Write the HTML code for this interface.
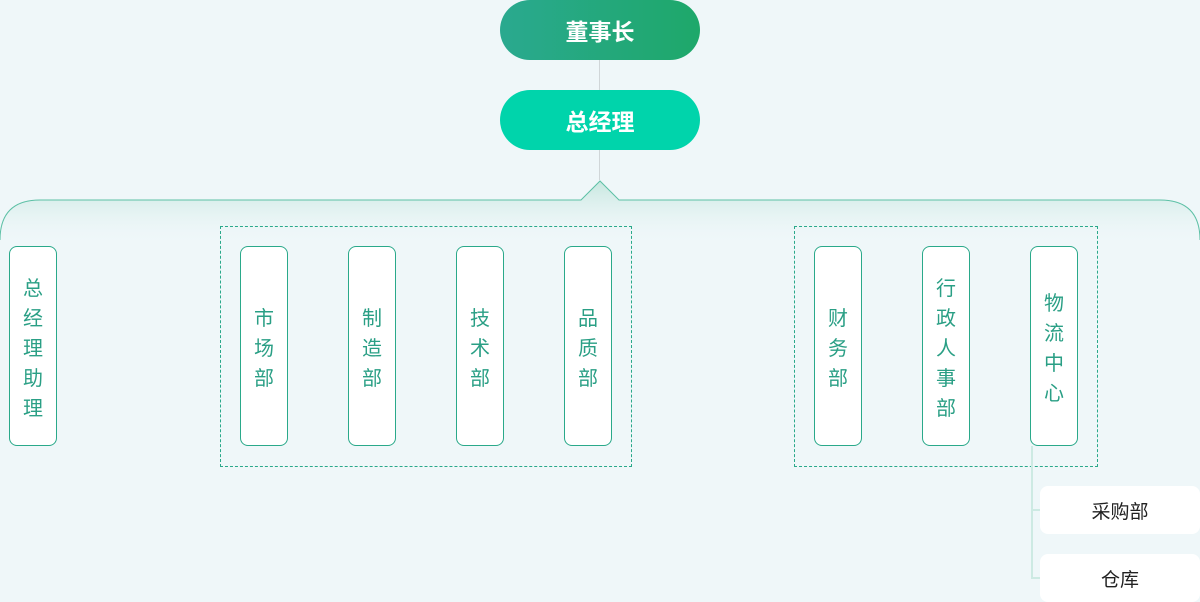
<!DOCTYPE html>
<html><head><meta charset="utf-8"><style>
body{margin:0;width:1200px;height:602px;background:#eff7f9;position:relative;overflow:hidden;font-family:"Liberation Sans","Noto Sans CJK SC",sans-serif}
.a{position:absolute}
.pill{position:absolute;left:500px;width:200px;height:60px;border-radius:30px;color:#fff;font-weight:bold;font-size:23px;display:flex;align-items:center;justify-content:center}
.v{position:absolute;top:246px;width:46px;height:198px;box-sizing:content-box;border:1px solid #2aa98a;border-radius:8px;background:#fff;color:#2a9f85;font-size:20px;display:flex;flex-direction:column;align-items:center;justify-content:center;line-height:30px;padding-top:0}
.v span{display:block;position:relative;top:3px}
.d{position:absolute;top:226px;height:239px;border:1px dashed #2aa98a}
.s{position:absolute;left:1040px;width:160px;height:48px;background:#fff;border-radius:8px;display:flex;align-items:center;justify-content:center;font-size:19px;color:#222}
</style></head><body>
<div class="a" style="left:599px;top:60px;width:1px;height:120px;background:#d0d6d8"></div>
<div class="pill" style="top:0;background:linear-gradient(90deg,#2aa98f,#1ea86a)">董事长</div>
<div class="pill" style="top:90px;background:#00d4ab">总经理</div>
<svg class="a" style="left:0;top:0" width="1200" height="260">
<defs><linearGradient id="g" x1="0" y1="0" x2="0" y2="1"><stop offset="0" stop-color="#c6e7df"/><stop offset="1" stop-color="#eff7f9" stop-opacity="0"/></linearGradient></defs>
<path d="M0,245 L0,240 Q0,200 40,200 L581,200 L600,181 L619,200 L1160,200 Q1200,200 1200,240 L1200,245 Z" fill="url(#g)"/>
<path d="M0,240 Q0,200 40,200 L581,200 L600,181 L619,200 L1160,200 Q1200,200 1200,240" fill="none" stroke="#5cc0a5" stroke-width="1"/>
</svg>
<div class="d" style="left:220px;width:410px"></div>
<div class="d" style="left:794px;width:302px"></div>
<div class="a" style="left:1031px;top:446px;width:2px;height:133px;background:#cdeae3"></div>
<div class="a" style="left:1031px;top:509px;width:10px;height:2px;background:#cdeae3"></div>
<div class="a" style="left:1031px;top:577px;width:10px;height:2px;background:#cdeae3"></div>
<div class="v" style="left:9px"><span>总<br>经<br>理<br>助<br>理</span></div>
<div class="v" style="left:240px"><span>市<br>场<br>部</span></div>
<div class="v" style="left:348px"><span>制<br>造<br>部</span></div>
<div class="v" style="left:456px"><span>技<br>术<br>部</span></div>
<div class="v" style="left:564px"><span>品<br>质<br>部</span></div>
<div class="v" style="left:814px"><span>财<br>务<br>部</span></div>
<div class="v" style="left:922px"><span>行<br>政<br>人<br>事<br>部</span></div>
<div class="v" style="left:1030px"><span>物<br>流<br>中<br>心</span></div>
<div class="s" style="top:486px">采购部</div>
<div class="s" style="top:554px">仓库</div>
</body></html>
